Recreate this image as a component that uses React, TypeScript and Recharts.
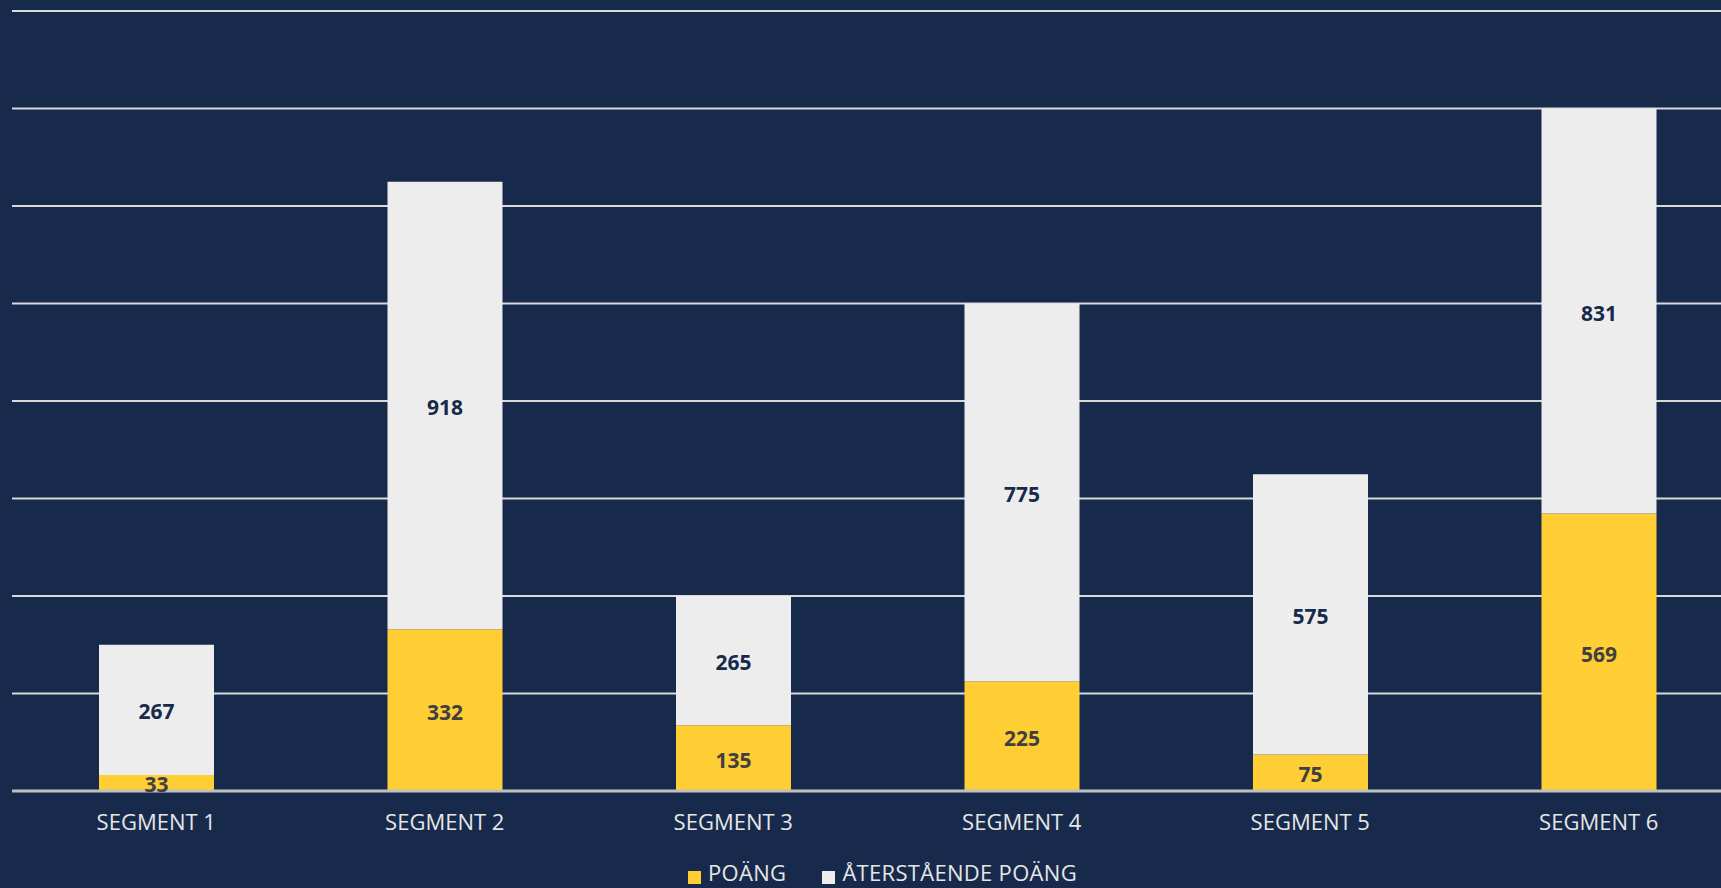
import { BarChart, Bar, XAxis, YAxis, CartesianGrid, Legend, LabelList } from "recharts";

const categories = ["SEGMENT 1", "SEGMENT 2", "SEGMENT 3", "SEGMENT 4", "SEGMENT 5", "SEGMENT 6"];
const points = [33, 332, 135, 225, 75, 569];
const remaining = [267, 918, 265, 775, 575, 831];
const yTicks = [0, 200, 400, 600, 800, 1000, 1200, 1400, 1600];

const data = categories.map((name, i) => ({
  name,
  points: points[i],
  remaining: remaining[i],
}));

const NAVY = "#182a4b";
const GOLD = "#ffcd34";
const LIGHT = "#ededed";
const FONT = "'Open Sans', 'Liberation Sans', sans-serif";

export default function App() {
  return (
    <div
      style={{
        position: "absolute",
        left: 0,
        top: 0,
        width: 1721,
        height: 888,
        overflow: "hidden",
        background: NAVY,
      }}
    >
      <BarChart
        width={1756}
        height={888}
        data={data}
        barSize={115}
        margin={{ top: 11, right: 13, left: 12, bottom: 0 }}
      >
        <CartesianGrid vertical={false} stroke="#d9d9d9" strokeWidth={2} />
        <XAxis
          dataKey="name"
          tickLine={false}
          tickSize={0}
          tickMargin={23}
          height={69}
          axisLine={{ stroke: "#bfbfbf", strokeWidth: 3 }}
          tick={{ fill: "#e6e6e6", fontSize: 22, fontFamily: FONT }}
        />
        <YAxis hide domain={[0, 1600]} ticks={yTicks} />
        <Legend
          verticalAlign="bottom"
          iconType="square"
          iconSize={13}
          wrapperStyle={{ lineHeight: "24px", paddingLeft: 23 }}
          formatter={(value: string) => (
            <span
              style={{
                color: "#e6e6e6",
                fontSize: 22,
                fontFamily: FONT,
                letterSpacing: 0.3,
                marginRight: 26,
                marginLeft: 3,
              }}
            >
              {value}
            </span>
          )}
        />
        <Bar dataKey="points" name="POÄNG" stackId="a" fill={GOLD} isAnimationActive={false}>
          <LabelList
            dataKey="points"
            position="center"
            fill="#404040"
            dy={2}
            style={{ fontSize: 21, fontWeight: 700, fontFamily: FONT }}
          />
        </Bar>
        <Bar dataKey="remaining" name="ÅTERSTÅENDE POÄNG" stackId="a" fill={LIGHT} isAnimationActive={false}>
          <LabelList
            dataKey="remaining"
            position="center"
            fill={NAVY}
            dy={2}
            style={{ fontSize: 21, fontWeight: 700, fontFamily: FONT }}
          />
        </Bar>
      </BarChart>
    </div>
  );
}
